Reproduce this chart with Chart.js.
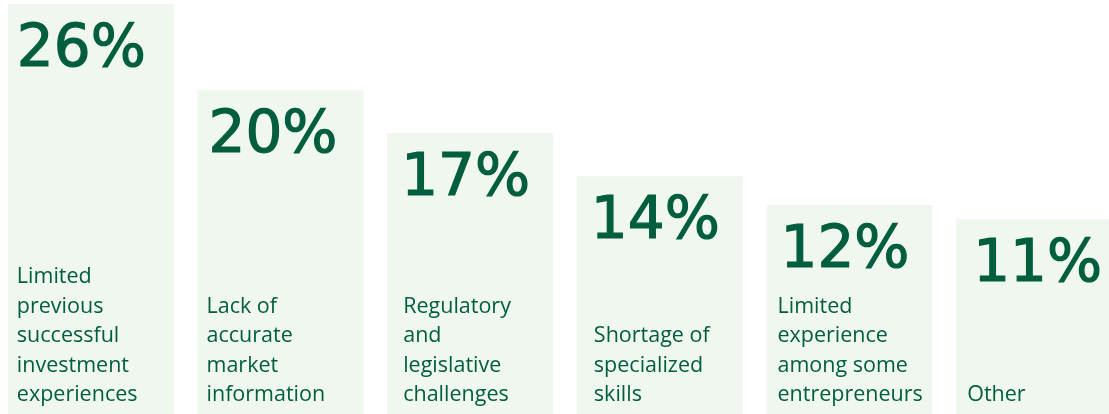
<!DOCTYPE html>
<html>
<head>
<meta charset="utf-8">
<script src="https://cdn.jsdelivr.net/npm/chart.js@4"></script>
<style>
  html, body { margin: 0; padding: 0; background: #fff; overflow: hidden; }
  #wrap { position: relative; width: 1109px; height: 414px; overflow: hidden; }
  #box { position: absolute; left: -4px; top: 0; width: 1138px; height: 414px; }
</style>
</head>
<body>
<div id="wrap"><div id="box"><canvas id="dataChart"></canvas></div></div>
<script>
// chart data
const categories = [
  ['Limited', 'previous', 'successful', 'investment', 'experiences'],
  ['Lack of', 'accurate', 'market', 'information'],
  ['Regulatory', 'and', 'legislative', 'challenges'],
  ['Shortage of', 'specialized', 'skills'],
  ['Limited', 'experience', 'among some', 'entrepreneurs'],
  ['Other']
];
const shares = [26, 20, 17, 14, 12, 11];

const green = '#005e3f';
const barFill = '#f0f7ef';
// text inset from the left edge of each bar
const valueInset = [9, 11, 14, 14, 14, 17];
const labelInset = [9, 9, 16, 17, 11, 11];

// draws the big percentage and the label inside each bar
const barText = {
  id: 'barText',
  afterDatasetsDraw(chart) {
    const ctx = chart.ctx;
    const meta = chart.getDatasetMeta(0);
    ctx.save();
    ctx.fillStyle = green;
    ctx.strokeStyle = green;
    ctx.textAlign = 'left';
    ctx.textBaseline = 'alphabetic';
    meta.data.forEach((bar, i) => {
      const left = bar.x - bar.width / 2;
      ctx.font = '58px "DejaVu Sans"';
      ctx.lineWidth = 1.2;
      ctx.fillText(shares[i] + '%', left + valueInset[i], bar.y + 62);
      ctx.strokeText(shares[i] + '%', left + valueInset[i], bar.y + 62);
      ctx.font = '21.5px "Open Sans"';
      const lines = categories[i];
      lines.forEach((line, j) => {
        const y = 401 - (lines.length - 1 - j) * 29.5;
        ctx.fillText(line, left + labelInset[i], y);
      });
    });
    ctx.restore();
  }
};

const ctx = document.getElementById('dataChart').getContext('2d');
let chart = new Chart(ctx, {
  type: 'bar',
  data: {
    labels: categories,
    datasets: [{
      data: shares,
      base: -2.56,
      backgroundColor: barFill,
      borderWidth: 0,
      barPercentage: 0.875,
      categoryPercentage: 1
    }]
  },
  options: {
    responsive: true,
    maintainAspectRatio: false,
    animation: false,
    layout: { padding: 0 },
    plugins: {
      legend: { display: false },
      tooltip: { enabled: false }
    },
    scales: {
      x: { display: false },
      y: { display: false, min: -2.56, max: 26.27 }
    }
  },
  plugins: [barText]
});
</script>
</body>
</html>
